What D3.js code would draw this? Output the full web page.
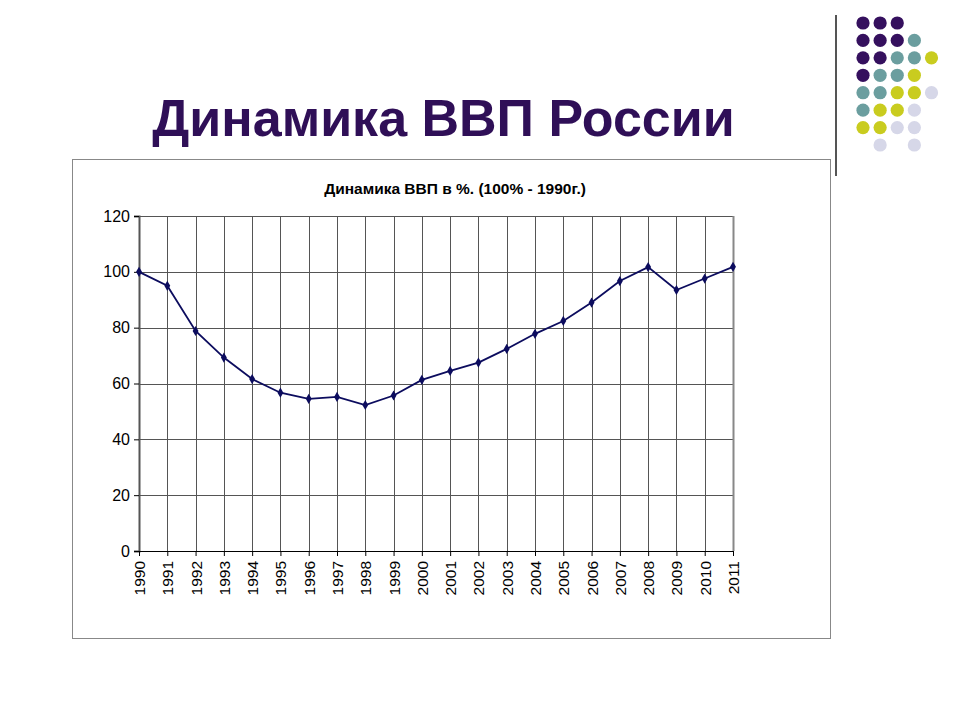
<!DOCTYPE html>
<html><head><meta charset="utf-8">
<script src="https://cdn.jsdelivr.net/npm/d3@7"></script>
<style>body{margin:0;background:#fff}svg{display:block}</style>
</head><body>
<svg id="c" width="960" height="720"></svg>
<script>
const years = ["1990","1991","1992","1993","1994","1995","1996","1997","1998","1999","2000","2001","2002","2003","2004","2005","2006","2007","2008","2009","2010","2011"];
const gdp = [100,95,78.8,69.3,61.6,56.7,54.5,55.2,52.3,55.7,61.3,64.5,67.5,72.4,77.8,82.4,89,96.7,101.7,93.5,97.6,101.8];
const yTicks = [0,20,40,60,80,100,120];
const pageTitle = "Динамика ВВП России";
const chartTitle = "Динамика ВВП в %. (100% - 1990г.)";
// decorative dot pattern: P=purple T=teal Y=yellow L=lavender
const dotRows = ["PPP..","PPPT.","PPTTY","PTTY.","TTYYL","TYYL.","YYLL.",".L.L."];
const dotColors = {P:"#35105e",T:"#6b9e9f",Y:"#c9cc1f",L:"#d6d7e8"};

const svg = d3.select("#c");
svg.append("rect").attr("width",960).attr("height",720).attr("fill","#fff");

// decoration
svg.append("line").attr("x1",836).attr("x2",836).attr("y1",15).attr("y2",176)
  .attr("stroke","#555").attr("stroke-width",2);
const dx = d3.scaleLinear().domain([0,4]).range([863,931.5]);
const dy = d3.scaleLinear().domain([0,7]).range([23,145]);
dotRows.forEach((row,r)=>{
  row.split("").forEach((ch,c)=>{
    if(ch===".") return;
    svg.append("circle").attr("cx",dx(c)).attr("cy",dy(r)).attr("r",6.6).attr("fill",dotColors[ch]);
  });
});

// page title
svg.append("text").attr("x",443.5).attr("y",136).attr("text-anchor","middle")
  .attr("font-family","Liberation Sans, Arial, sans-serif").attr("font-weight","bold")
  .attr("font-size",52).attr("fill","#2f0f57").text(pageTitle);

// chart frame
svg.append("rect").attr("x",72.5).attr("y",159.5).attr("width",758).attr("height",479)
  .attr("fill","#fff").attr("stroke","#888").attr("stroke-width",1);

svg.append("text").attr("x",455).attr("y",194).attr("text-anchor","middle")
  .attr("font-family","Liberation Sans, Arial, sans-serif").attr("font-weight","bold")
  .attr("font-size",15.5).attr("fill","#000").text(chartTitle);

const x = d3.scalePoint().domain(years).range([139,733]);
const y = d3.scaleLinear().domain([0,120]).range([551,216]);

const g = svg.append("g");
// horizontal gridlines
g.selectAll("line.h").data(yTicks).join("line")
  .attr("x1",139).attr("x2",733).attr("y1",d=>Math.round(y(d))+0.5).attr("y2",d=>Math.round(y(d))+0.5)
  .attr("stroke","#555").attr("stroke-width",1);
// vertical gridlines
g.selectAll("line.v").data(years).join("line")
  .attr("x1",d=>Math.round(x(d))+0.5).attr("x2",d=>Math.round(x(d))+0.5).attr("y1",216).attr("y2",551)
  .attr("stroke","#555").attr("stroke-width",1);
// right edge
g.append("line").attr("x1",x("2011")+0.5).attr("x2",x("2011")+0.5).attr("y1",216).attr("y2",551)
  .attr("stroke","#888").attr("stroke-width",2);

// y axis
const ya = svg.append("g").attr("transform","translate(139,0)")
  .call(d3.axisLeft(y).tickValues(yTicks).tickSize(5).tickPadding(4));
ya.select(".domain").attr("stroke","#555").attr("stroke-width",2);
ya.selectAll(".tick line").attr("stroke","#000");
ya.selectAll("text").attr("font-family","Liberation Sans, Arial, sans-serif").attr("font-size",16).attr("fill","#000");

// x axis
const xa = svg.append("g").attr("transform","translate(0,551)")
  .call(d3.axisBottom(x).tickSize(5).tickPadding(0));
xa.select(".domain").attr("stroke","#000").attr("d","M139,0.5H733");
xa.selectAll(".tick line").attr("stroke","#000");
xa.selectAll("text").attr("font-family","Liberation Sans, Arial, sans-serif").attr("font-size",15.5).attr("fill","#000")
  .attr("transform","rotate(-90)").attr("text-anchor","end").attr("dy","0.35em").attr("x",-10).attr("y",0);

// line
const line = d3.line().x((d,i)=>x(years[i])).y(d=>y(d));
svg.append("path").datum(gdp).attr("d",line).attr("fill","none")
  .attr("stroke","#0c0c5e").attr("stroke-width",1.8);
svg.selectAll("path.m").data(gdp).join("path")
  .attr("transform",(d,i)=>`translate(${x(years[i])},${y(d)})`)
  .attr("d",d3.symbol(d3.symbolDiamond,30)).attr("fill","#0c0c5e");
</script>
</body></html>
